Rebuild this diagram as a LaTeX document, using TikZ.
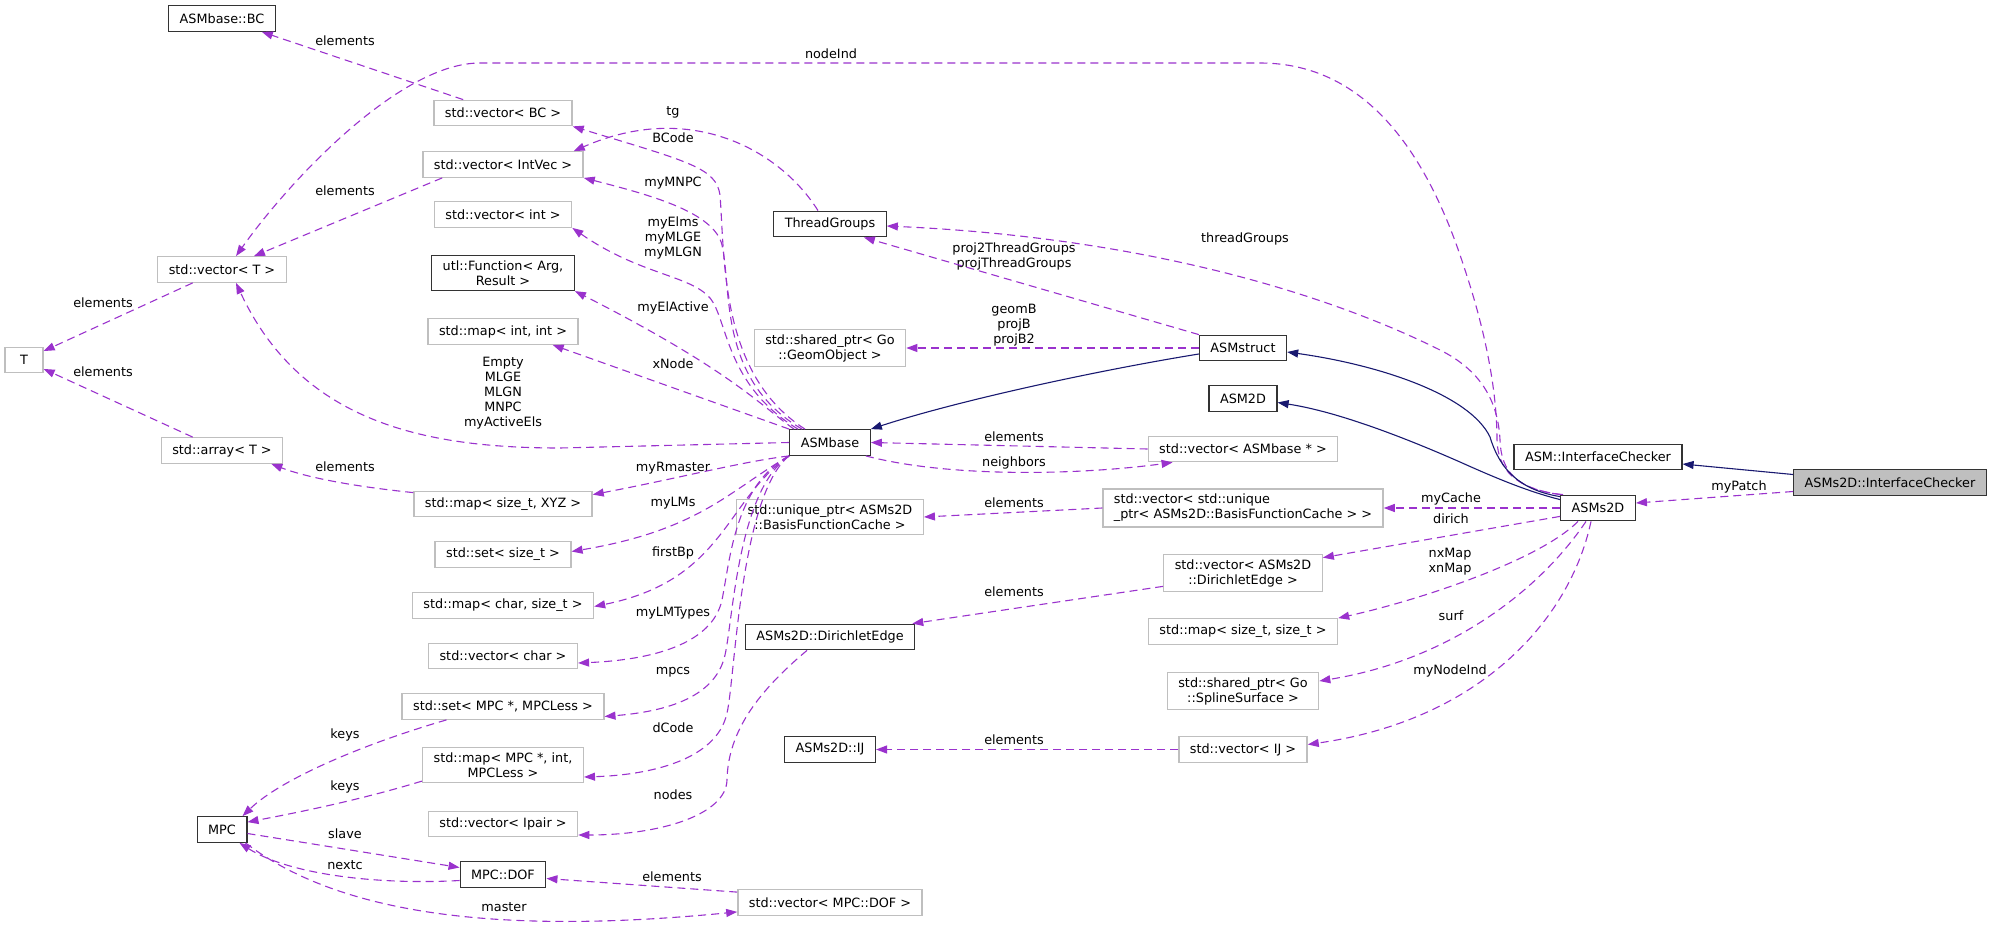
\documentclass[tikz,border=0pt]{standalone}
\usepackage{fontspec}
\setmainfont{DejaVu Sans}
\usetikzlibrary{arrows.meta}
\definecolor{edgepurple}{RGB}{154,50,205}
\definecolor{edgeblue}{RGB}{25,25,112}
\definecolor{boxgrey}{RGB}{191,191,191}
\newcommand{\dxfont}{\fontsize{12.8}{15}\selectfont}

\begin{document}
\begin{tikzpicture}[x=1pt,y=-1pt, every node/.style={font=\dxfont},
  cls/.style={draw=black!80,line width=1.3pt,fill=white,minimum height=25.5pt,
              minimum width=38pt,inner xsep=11pt,inner ysep=5pt,align=center},
  ext/.style={cls,draw=boxgrey},
  focus/.style={cls,fill=boxgrey},
  lbl/.style={inner sep=0pt,align=center},
  uses/.style={draw=edgepurple,line width=1.1pt,dash pattern=on 8pt off 5pt,
               -{Triangle[length=11pt,width=8pt]}},
  inherits/.style={draw=edgeblue,line width=1.1pt,
               -{Triangle[length=11pt,width=8pt]}}]
  \useasboundingbox (0,0) rectangle (1992,931);

  % left column
  \node[cls] (bc) at (222,18.5) {ASMbase::BC};
  \node[ext] (vect) at (222,269.5) {std::vector< T >};
  \node[ext] (tt) at (24,360) {T};
  \node[ext] (arr) at (222,450.5) {std::array< T >};
  \node[cls] (mpc) at (222,829.5) {MPC};

  % member types of ASMbase
  \node[ext] (vecbc) at (503,113) {std::vector< BC >};
  \node[ext] (vecintvec) at (503,164.5) {std::vector< IntVec >};
  \node[ext] (vecint) at (503,214.5) {std::vector< int >};
  \node[cls] (func) at (503,273) {utl::Function< Arg,\\Result >};
  \node[ext] (mapint) at (503,331.5) {std::map< int, int >};
  \node[ext] (mapxyz) at (503,504) {std::map< size\_t, XYZ >};
  \node[ext] (setsize) at (503,554.5) {std::set< size\_t >};
  \node[ext] (mapchar) at (503,605.5) {std::map< char, size\_t >};
  \node[ext] (vecchar) at (503,656) {std::vector< char >};
  \node[ext] (setmpc) at (503,706.5) {std::set< MPC *, MPCLess >};
  \node[ext] (mapmpc) at (503,765) {std::map< MPC *, int,\\MPCLess >};
  \node[ext] (vecipair) at (503,824) {std::vector< Ipair >};
  \node[cls] (dof) at (503,874.5) {MPC::DOF};

  % middle column
  \node[cls] (tgroups) at (830,224) {ThreadGroups};
  \node[ext] (geomobj) at (830,348) {std::shared\_ptr< Go\\::GeomObject >};
  \node[cls] (asmbase) at (830,442.5) {ASMbase};
  \node[ext] (basiscache) at (830,517) {std::unique\_ptr< ASMs2D\\::BasisFunctionCache >};
  \node[cls] (diredge) at (830,637) {ASMs2D::DirichletEdge};
  \node[cls] (ij) at (830,749.5) {ASMs2D::IJ};
  \node[ext] (vecdof) at (830,902.5) {std::vector< MPC::DOF >};

  % member types of ASMs2D
  \node[cls] (asmstruct) at (1243,348) {ASMstruct};
  \node[cls] (asm2d) at (1243,398.5) {ASM2D};
  \node[ext] (vecasmbase) at (1243,449) {std::vector< ASMbase * >};
  \node[ext,align=left] (veccache) at (1243,508)
    {std::vector< std::unique\\\_ptr< ASMs2D::BasisFunctionCache > >};
  \node[ext] (vecdiredge) at (1243,573) {std::vector< ASMs2D\\::DirichletEdge >};
  \node[ext] (mapsize) at (1243,631.5) {std::map< size\_t, size\_t >};
  \node[ext] (splinesurf) at (1243,691) {std::shared\_ptr< Go\\::SplineSurface >};
  \node[ext] (vecij) at (1243,749.5) {std::vector< IJ >};

  % right part
  \node[cls] (asmic) at (1598,457) {ASM::InterfaceChecker};
  \node[cls] (asms2d) at (1598,508) {ASMs2D};
  \node[focus] (s2dic) at (1890,482.5) {ASMs2D::InterfaceChecker};

  % edge labels
  \node[lbl] (lbc) at (345,41) {elements};
  \node[lbl] (lnodeind) at (831,54) {nodeInd};
  \node[lbl] (ltg) at (673,112) {tg};
  \node[lbl] (lbcode) at (673,138) {BCode};
  \node[lbl] (lmnpc) at (673,183) {myMNPC};
  \node[lbl] (lintvec) at (345,191) {elements};
  \node[lbl] (lelms) at (673,238) {myElms\\myMLGE\\myMLGN};
  \node[lbl] (lvect) at (103,303) {elements};
  \node[lbl] (lelactive) at (673,308) {myElActive};
  \node[lbl] (lxnode) at (673,364) {xNode};
  \node[lbl] (larrt) at (103,372) {elements};
  \node[lbl] (lempty) at (503,393) {Empty\\MLGE\\MLGN\\MNPC\\myActiveEls};
  \node[lbl] (lxyz) at (345,467) {elements};
  \node[lbl] (lrmaster) at (673,468) {myRmaster};
  \node[lbl] (llms) at (673,503) {myLMs};
  \node[lbl] (lfirstbp) at (673,553) {firstBp};
  \node[lbl] (llmtypes) at (673,613) {myLMTypes};
  \node[lbl] (lmpcs) at (673,672) {mpcs};
  \node[lbl] (ldcode) at (673,728) {dCode};
  \node[lbl] (lkeysa) at (345,735) {keys};
  \node[lbl] (lkeysb) at (345,787) {keys};
  \node[lbl] (lnodes) at (673,795) {nodes};
  \node[lbl] (lslave) at (345,834) {slave};
  \node[lbl] (lnextc) at (345,865) {nextc};
  \node[lbl] (ldofs) at (672,877) {elements};
  \node[lbl] (lmaster) at (504,907) {master};
  \node[lbl] (lthreadg) at (1245,239) {threadGroups};
  \node[lbl] (lproj) at (1014,256) {proj2ThreadGroups\\projThreadGroups};
  \node[lbl] (lgeomb) at (1014,325) {geomB\\projB\\projB2};
  \node[lbl] (lasmbase) at (1014,437) {elements};
  \node[lbl] (lneighbors) at (1014,463) {neighbors};
  \node[lbl] (lcache) at (1014,503) {elements};
  \node[lbl] (ldiredge) at (1014,592) {elements};
  \node[lbl] (lij) at (1014,740) {elements};
  \node[lbl] (lmycache) at (1451,499) {myCache};
  \node[lbl] (ldirich) at (1451,519) {dirich};
  \node[lbl] (lnxmap) at (1450,562) {nxMap\\xnMap};
  \node[lbl] (lsurf) at (1451,616) {surf};
  \node[lbl] (lmynodeind) at (1450,671) {myNodeInd};
  \node[lbl] (lmypatch) at (1739,487) {myPatch};

  % element types
  \draw[uses] (vecbc) -- (bc);
  \draw[uses] (vect) -- (tt);
  \draw[uses] (arr) -- (tt);
  \draw[uses] ([xshift=20pt]vecintvec.south west) -- ([xshift=32pt]vect.north);
  \draw[uses] ([yshift=-2pt]mapxyz.north west) .. controls (340,485) and (300,475)
    .. ([xshift=-12pt]arr.south east);
  \draw[uses] (vecasmbase.west) -- (asmbase.east);
  \draw[uses] (veccache.west) -- (basiscache.east);
  \draw[uses] ([yshift=6pt]vecdiredge.south west) -- ([xshift=-3pt]diredge.north east);
  \draw[uses] (vecij.west) -- (ij.east);
  \draw[uses] ([yshift=-3pt]vecdof.north west) -- ([yshift=-4pt]dof.east);

  % ASMbase members
  \draw[uses] ([xshift=-25pt]asmbase.north) .. controls (720,375) and (725,260) .. (720,195)
    .. controls (716,168) and (690,162) .. (vecbc.south east);
  \draw[uses] ([xshift=-28pt]asmbase.north) .. controls (718,380) and (732,290) .. (722,245)
    .. controls (714,212) and (650,195) .. (vecintvec.south east);
  \draw[uses] ([xshift=-32pt]asmbase.north) .. controls (725,385) and (728,320) .. (710,298)
    .. controls (690,275) and (640,275) .. (vecint.south east);
  \draw[uses] ([xshift=-36pt]asmbase.north) .. controls (760,405) and (730,370) .. (func.south east);
  \draw[uses] (asmbase.north west) -- ([xshift=-26pt]mapint.south east);
  \draw[uses] (asmbase.west) -- (560,448) .. controls (420,448) and (300,420)
    .. ([xshift=14pt]vect.south);
  \draw[uses] (asmbase.south west) .. controls (740,462) and (680,478)
    .. ([yshift=-4pt]mapxyz.north east);
  \draw[uses] (asmbase.south west) .. controls (730,490) and (700,530)
    .. ([yshift=3pt]setsize.east);
  \draw[uses] (asmbase.south west) .. controls (725,500) and (725,580)
    .. ([yshift=-1pt]mapchar.east);
  \draw[uses] (asmbase.south west) .. controls (735,485) and (730,560) .. (722,600)
    .. controls (712,645) and (650,660) .. ([yshift=-7pt]vecchar.east);
  \draw[uses] (asmbase.south west) .. controls (738,490) and (733,620) .. (725,655)
    .. controls (715,700) and (660,712) .. ([yshift=-10pt]setmpc.east);
  \draw[uses] (asmbase.south west) .. controls (740,495) and (735,680) .. (727,713)
    .. controls (717,760) and (650,775) .. ([yshift=-12pt]mapmpc.east);
  \draw[uses] ([xshift=-5pt]asmbase.south east) .. controls (950,478) and (1080,475)
    .. ([xshift=25pt]vecasmbase.south west);
  \draw[uses] ([xshift=-23pt]diredge.south) .. controls (760,690) and (728,730) .. (727,780)
    .. controls (726,815) and (660,835) .. ([yshift=-11pt]vecipair.east);
  \draw[uses] ([xshift=-12pt]tgroups.north) .. controls (780,150) and (690,100)
    .. ([xshift=-10pt]vecintvec.north east);

  % ASMstruct members
  \draw[uses] (asmstruct.north west) -- ([xshift=-23pt]tgroups.south east);
  \draw[uses] (asmstruct.west) -- (geomobj.east);

  % ASMs2D members
  \draw[uses] (asms2d.north west) .. controls (1515,488) and (1498,470) .. (1497,440)
    .. controls (1497,390) and (1485,330) .. (1465,270)
    .. controls (1430,160) and (1370,63) .. (1260,63) -- (480,63)
    .. controls (400,63) and (290,180) .. ([xshift=14pt]vect.north);
  \draw[uses] ([xshift=3pt]asms2d.north west) .. controls (1517,490) and (1501,472) .. (1500,440)
    .. controls (1498,400) and (1480,370) .. (1440,350)
    .. controls (1380,320) and (1200,240) .. ([yshift=-2pt]tgroups.east);
  \draw[uses] (asms2d.west) -- (veccache.east);
  \draw[uses] ([yshift=5pt]asms2d.south west) -- ([yshift=-4pt]vecdiredge.north east);
  \draw[uses] ([xshift=-20pt]asms2d.south) .. controls (1540,560) and (1420,600)
    .. (mapsize.north east);
  \draw[uses] ([xshift=-12pt]asms2d.south) .. controls (1540,590) and (1450,660)
    .. ([yshift=10pt]splinesurf.east);
  \draw[uses] ([xshift=-7pt]asms2d.south) .. controls (1570,620) and (1480,720)
    .. ([yshift=5pt]vecij.east);
  \draw[uses] ([yshift=-9pt]s2dic.west) -- ([yshift=5pt]asms2d.east);

  % MPC members
  \draw[uses] ([xshift=45pt]setmpc.south west) .. controls (360,745) and (280,780)
    .. ([xshift=-5pt]mpc.north east);
  \draw[uses] ([yshift=2pt]mapmpc.south west) .. controls (360,800) and (300,812)
    .. ([yshift=-6pt]mpc.north east);
  \draw[uses] ([yshift=-4pt]mpc.east) -- ([yshift=7pt]dof.west);
  \draw[uses] ([yshift=-6pt]dof.west) .. controls (380,885) and (290,875)
    .. ([xshift=-8pt]mpc.south east);
  \draw[uses] ([xshift=-2pt]mpc.south east) .. controls (340,915) and (500,935)
    .. ([yshift=4pt]vecdof.south west);

  % inheritance
  \draw[inherits] ([yshift=-6pt]asmstruct.west) .. controls (1100,370) and (960,400)
    .. (asmbase.north east);
  \draw[inherits] ([yshift=-2pt]asms2d.north west) .. controls (1520,490) and (1500,470) .. (1490,437)
    .. controls (1470,395) and (1380,365) .. ([yshift=-4pt]asmstruct.east);
  \draw[inherits] ([yshift=-5pt]asms2d.north west) .. controls (1530,492) and (1500,480) .. (1460,462)
    .. controls (1410,440) and (1340,412) .. ([yshift=-4pt]asm2d.east);
  \draw[inherits] ([yshift=8pt]s2dic.west) -- ([yshift=-7pt]asmic.east);
\end{tikzpicture}
\end{document}
